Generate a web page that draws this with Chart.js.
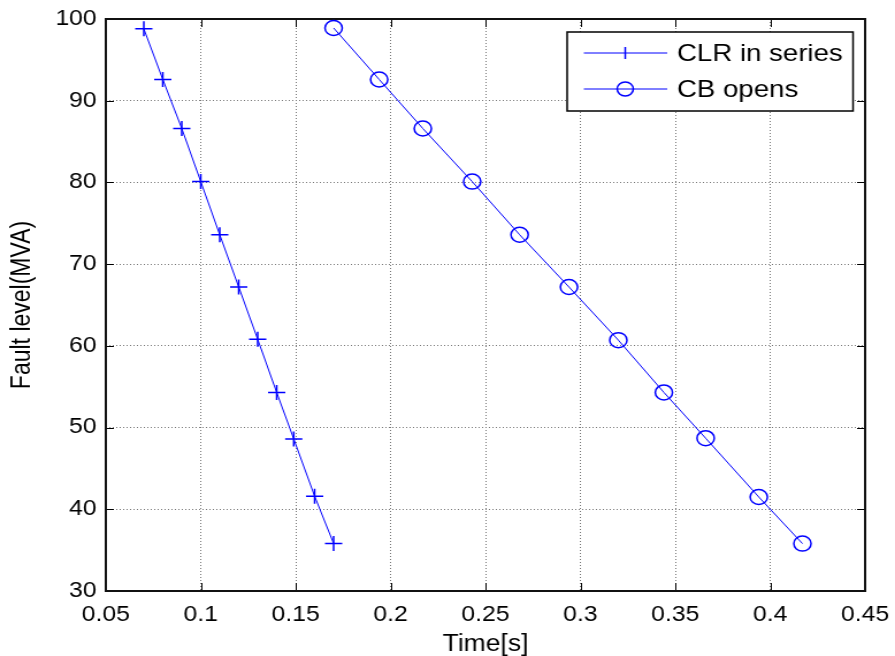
<!DOCTYPE html>
<html>
<head>
<meta charset="utf-8">
<script src="https://cdn.jsdelivr.net/npm/chart.js@4/dist/chart.umd.min.js"></script>
<style>
  html, body { margin: 0; padding: 0; background: #fff; overflow: hidden; }
  /* the original picture is a bit wider than tall, so the canvas is drawn narrower and stretched */
  #faultChart { display: block; width: 895px; height: 656px; }
</style>
</head>
<body>
<canvas id="faultChart" width="778" height="656" style="width:895px;height:656px"></canvas>
<script>
// values
var timeCLR  = [0.070, 0.080, 0.090, 0.100, 0.110, 0.120, 0.130, 0.140, 0.149, 0.160, 0.170];
var faultCLR = [98.8, 92.6, 86.6, 80.1, 73.6, 67.2, 60.8, 54.3, 48.6, 41.6, 35.8];
var timeCB   = [0.170, 0.194, 0.217, 0.243, 0.268, 0.294, 0.320, 0.344, 0.366, 0.394, 0.417];
var faultCB  = [98.9, 92.6, 86.6, 80.1, 73.6, 67.2, 60.7, 54.3, 48.7, 41.5, 35.8];
var seriesNames = ["CLR in series", "CB opens"];

var FONT = "'Liberation Sans', Arial, sans-serif";
var BLUE = "#0000ff";

function pts(xs, ys) {
  var out = [];
  for (var i = 0; i < xs.length; i++) out.push({x: xs[i], y: ys[i]});
  return out;
}

// box + inward ticks like matlab
var framePlugin = {
  id: "frame",
  beforeDatasetsDraw: function (chart) {
    var ctx = chart.ctx, a = chart.chartArea;
    var xs = chart.scales.x, ys = chart.scales.y;
    ctx.save();
    ctx.strokeStyle = "#000";
    ctx.lineWidth = 1;
    ctx.beginPath();
    xs.ticks.forEach(function (t) {
      var px = Math.round(xs.getPixelForValue(t.value)) + 0.5;
      ctx.moveTo(px, a.bottom); ctx.lineTo(px, a.bottom - 8);
      ctx.moveTo(px, a.top); ctx.lineTo(px, a.top + 8);
    });
    ys.ticks.forEach(function (t) {
      var py = Math.round(ys.getPixelForValue(t.value)) + 0.5;
      ctx.moveTo(a.left, py); ctx.lineTo(a.left + 7, py);
      ctx.moveTo(a.right, py); ctx.lineTo(a.right - 7, py);
    });
    ctx.stroke();
    ctx.lineWidth = 2;
    ctx.strokeStyle = "#111";
    ctx.strokeRect(a.left, a.top, a.right - a.left, a.bottom - a.top);
    ctx.restore();
  }
};

// legend box in the upper right corner of the axes
var legendPlugin = {
  id: "boxLegend",
  afterDraw: function (chart) {
    var ctx = chart.ctx;
    var bx = 493, by = 32, bw = 248.5, bh = 79;
    ctx.save();
    ctx.fillStyle = "#fff";
    ctx.fillRect(bx, by, bw, bh);
    ctx.lineWidth = 1.5;
    ctx.strokeStyle = "#000";
    ctx.strokeRect(bx, by, bw, bh);
    var rows = [53, 89];
    chart.data.datasets.forEach(function (ds, i) {
      var y = rows[i];
      ctx.strokeStyle = ds.borderColor;
      ctx.lineWidth = 1;
      ctx.beginPath();
      ctx.moveTo(507.5, y); ctx.lineTo(580, y);
      ctx.stroke();
      ctx.lineWidth = 1.5;
      ctx.beginPath();
      if (ds.pointStyle === "cross") {
        ctx.moveTo(543.5, y - 6); ctx.lineTo(543.5, y + 6);
      } else {
        ctx.arc(543.5, y, 7, 0, Math.PI * 2);
      }
      ctx.stroke();
      ctx.fillStyle = "#000";
      ctx.font = "24px " + FONT;
      ctx.textBaseline = "middle";
      ctx.textAlign = "left";
      ctx.fillText(ds.label, 588.5, y + 1);
    });
    ctx.restore();
  }
};

var ctx = document.getElementById("faultChart").getContext("2d");
var faultChart = new Chart(ctx, {
  type: "scatter",
  data: {
    datasets: [
      {
        label: seriesNames[0],
        data: pts(timeCLR, faultCLR),
        showLine: true,
        borderColor: BLUE,
        backgroundColor: "rgba(0,0,0,0)",
        borderWidth: 1,
        pointStyle: "cross",
        pointRadius: 7.5,
        pointBorderWidth: 1.5,
        pointBorderColor: BLUE
      },
      {
        label: seriesNames[1],
        data: pts(timeCB, faultCB),
        showLine: true,
        borderColor: BLUE,
        backgroundColor: "rgba(0,0,0,0)",
        borderWidth: 1,
        pointStyle: "circle",
        pointRadius: 7.5,
        pointBorderWidth: 1.5,
        pointBorderColor: BLUE
      }
    ]
  },
  options: {
    responsive: false,
    animation: false,
    events: [],
    devicePixelRatio: 1,
    layout: { padding: { top: 19, right: 26, left: 0, bottom: 0 } },
    plugins: {
      legend: { display: false },
      tooltip: { enabled: false }
    },
    scales: {
      x: {
        type: "linear",
        min: 0.05,
        max: 0.45,
        afterFit: function (s) { s.height = 65; s.paddingLeft = 0; s.paddingRight = 0; },
        ticks: {
          stepSize: 0.05,
          padding: 11,
          color: "#000",
          font: { family: FONT, size: 21.5 },
          maxRotation: 0,
          callback: function (v) { return String(+v.toFixed(2)); }
        },
        grid: { color: "#777", lineWidth: 1, drawTicks: false },
        border: { display: false, dash: [1, 2] },
        title: {
          display: true,
          text: "Time[s]",
          color: "#000",
          font: { family: FONT, size: 23, lineHeight: 1 },
          padding: { top: 0, bottom: 0 }
        }
      },
      y: {
        min: 30,
        max: 100,
        afterFit: function (s) { s.width = 92; s.paddingTop = 0; s.paddingBottom = 0; },
        ticks: {
          stepSize: 10,
          padding: 8,
          color: "#000",
          font: { family: FONT, size: 21.5 }
        },
        grid: { color: "#777", lineWidth: 1, drawTicks: false },
        border: { display: false, dash: [1, 2] },
        title: {
          display: true,
          text: "Fault level(MVA)",
          color: "#000",
          font: { family: FONT, size: 23, lineHeight: 1 },
          padding: { top: 8, bottom: 0 }
        }
      }
    }
  },
  plugins: [framePlugin, legendPlugin]
});
</script>
</body>
</html>
